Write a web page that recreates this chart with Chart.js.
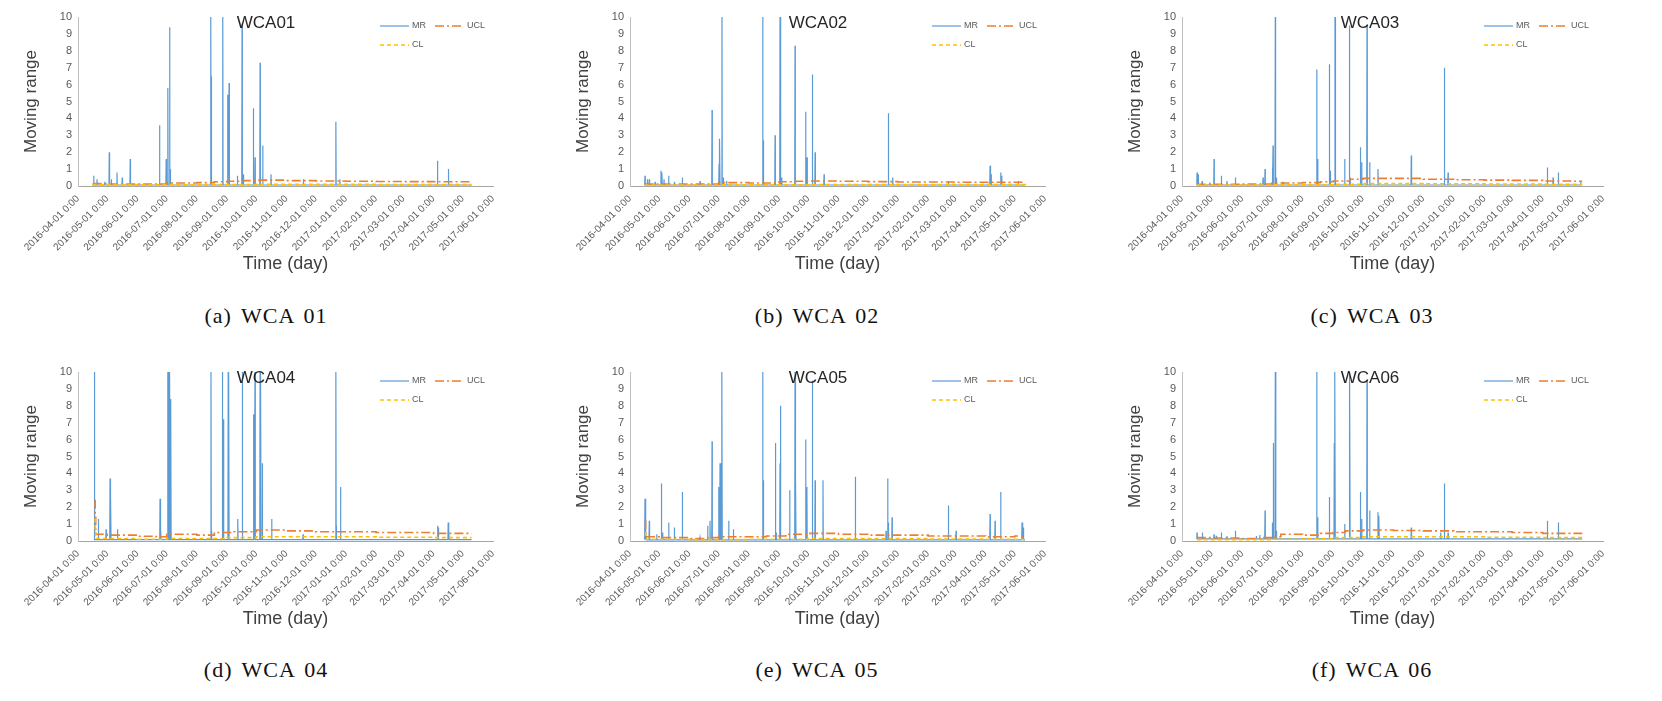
<!DOCTYPE html>
<html><head><meta charset="utf-8">
<script src="https://cdn.jsdelivr.net/npm/chart.js@4.4.1/dist/chart.umd.min.js"></script>
<style>
html,body{margin:0;padding:0;background:#fff;}
body{width:1662px;height:701px;position:relative;overflow:hidden;}
canvas{position:absolute;}
.cap{position:absolute;font-family:'Liberation Serif','DejaVu Serif',serif;font-size:22px;letter-spacing:1px;word-spacing:3px;color:#111;transform:translate(-50%,-50%);white-space:nowrap;}
</style></head><body>
<script>
// ---- axis ticks (days since 2016-04-01) ----
const tickDays = [0,30,61,91,122,153,183,214,244,275,306,334,365,395,426];
const tickLabels = ["2016-04-01 0:00","2016-05-01 0:00","2016-06-01 0:00","2016-07-01 0:00","2016-08-01 0:00","2016-09-01 0:00","2016-10-01 0:00","2016-11-01 0:00","2016-12-01 0:00","2017-01-01 0:00","2017-02-01 0:00","2017-03-01 0:00","2017-04-01 0:00","2017-05-01 0:00","2017-06-01 0:00"];
const stations = ["WCA01","WCA02","WCA03","WCA04","WCA05","WCA06"];
const captions = ["(a) WCA 01","(b) WCA 02","(c) WCA 03","(d) WCA 04","(e) WCA 05","(f) WCA 06"];

// ---- MR spikes [day, value], baseline level, data span ----
const mrWCA01 = [[16.1,0.6],[19.5,0.4],[27.3,0.25],[32.1,2.0],[34.2,0.4],[40,0.8],[45.4,0.5],[53.6,1.6],[83.7,3.6],[90.5,1.6],[92.2,5.8],[94,9.4],[94.6,1.0],[136.3,10],[137,6.5],[148.6,10],[153.7,5.4],[155.1,6.1],[163.6,0.6],[168.4,9.6],[169.8,0.7],[180,4.6],[181.7,1.7],[186.9,7.3],[189.6,2.4],[198.1,0.7],[231.3,0.4],[264.7,3.8],[268.8,0.4],[369,1.5],[380.2,1.0]];
const mrWCA02 = [[15.4,0.6],[17.8,0.4],[19.8,0.4],[25.7,0.25],[31.8,0.9],[32.8,0.8],[34.9,0.4],[39.7,0.6],[45.5,0.25],[53.7,0.5],[71.9,0.3],[84.2,4.5],[91.4,1.3],[92.1,2.8],[94.4,10],[95.8,0.5],[99.2,0.3],[136.2,10],[136.9,2.7],[148.9,3.0],[154,10],[154.7,6.5],[155.7,0.5],[169.4,8.3],[180.3,4.4],[181.7,1.7],[187.2,6.6],[190,2.0],[199.2,0.7],[265.2,4.3],[269.7,0.5],[326.8,0.3],[369.6,1.2],[370.6,0.7],[380.5,0.8],[381.5,0.6],[398.6,0.3]];
const mrWCA03 = [[15.2,0.8],[16.5,0.7],[20.3,0.3],[28.2,0.2],[32.4,1.6],[39.8,0.6],[45.5,0.3],[54,0.5],[82,0.5],[84,1.0],[91.4,1.1],[92.1,2.4],[94.4,10],[95.5,0.5],[102.2,0.25],[136.3,6.9],[137.3,1.6],[149.1,7.2],[150.1,0.9],[154.8,10],[155.3,10],[164.6,1.6],[169.3,9.5],[170,0.5],[180.5,2.3],[181.8,1.4],[187.2,9.5],[189.9,1.4],[198.3,1.0],[232,1.8],[265.5,7.0],[269.2,0.8],[369.7,1.1],[375.5,0.5],[380.8,0.8],[403.4,0.3]];
const mrWCA04 = [[17,10],[20.9,1.3],[28.8,0.7],[32.9,3.7],[33.6,2.8],[40.5,0.7],[84.2,2.5],[85,0.7],[92,10],[92.6,10],[93.2,10],[93.8,10],[94.4,10],[95.3,8.4],[136.5,10],[137.2,0.6],[148.2,10],[149.4,7.2],[154.2,10],[154.8,10],[164,1.3],[168.7,10],[180,7.5],[180.6,3.4],[181.7,10],[186.9,10],[187.6,10],[189.2,4.6],[198.8,1.3],[231,0.4],[264.7,10],[265.3,0.9],[269.5,3.2],[369,0.9],[369.8,0.8],[380,1.1],[380.8,0.6]];
const mrWCA05 = [[15.4,2.5],[16.4,0.6],[19.8,1.2],[27.4,0.4],[32.2,3.4],[33.5,0.5],[39.7,1.1],[45.5,0.8],[53.7,2.9],[71.9,0.2],[79.7,0.9],[82.1,1.2],[84.2,5.9],[91,3.2],[92.4,4.6],[93.4,0.8],[94.4,10],[101.3,1.2],[106.1,0.7],[136.2,10],[136.9,3.6],[149.2,5.8],[149.9,0.5],[154,4.6],[154.7,8.0],[163.9,3.0],[169.4,10],[170.1,3.8],[180.3,6.0],[181.6,3.2],[187.2,9.5],[190,3.6],[198.1,3.6],[231.3,3.8],[262.8,0.6],[264.5,3.7],[265.2,1.1],[269,1.4],[326.8,2.1],[334.7,0.6],[369.6,1.6],[374.7,1.2],[380.5,2.9],[402.4,1.1],[403.7,0.8]];
const mrWCA06 = [[15.2,0.5],[20.6,0.5],[32.4,0.4],[34.7,0.3],[39.8,0.5],[45.5,0.3],[54,0.6],[75.2,0.3],[78.6,0.35],[84,1.8],[91.4,1.1],[92.4,5.8],[94.4,10],[95.4,0.6],[136.3,10],[137.3,1.4],[149.1,2.6],[154.1,5.8],[154.8,10],[164.6,1.0],[169.3,10],[169.8,10],[180.5,2.9],[181.8,1.3],[187.2,9.5],[189.9,1.8],[198.3,1.7],[199.3,1.5],[232,0.8],[261.8,0.5],[265.5,3.4],[269.2,0.5],[369.7,1.2],[380.8,1.1]];
const mrFloor = [0.06,0.06,0.06,0.08,0.07,0.12];
const mrSpan = [[14.5,404],[15,405.5],[15,405],[17,404],[15,405.5],[15,405]];

// ---- UCL / CL step values [startDay, value] ----
const uclWCA01 = [[15,0.15],[30,0.12],[61,0.12],[91,0.18],[122,0.2],[140,0.25],[153,0.28],[170,0.32],[183,0.35],[214,0.32],[244,0.3],[275,0.28],[306,0.27],[334,0.26],[365,0.25],[404,0.25]];
const clWCA01  = [[15,0.08],[61,0.07],[122,0.08],[183,0.1],[244,0.1],[306,0.09],[365,0.08],[404,0.08]];
const uclWCA02 = [[15,0.12],[61,0.12],[91,0.2],[122,0.18],[153,0.25],[170,0.28],[183,0.3],[214,0.28],[244,0.26],[275,0.24],[334,0.22],[406,0.22]];
const clWCA02  = [[15,0.06],[91,0.07],[183,0.09],[275,0.08],[406,0.07]];
const uclWCA03 = [[15,0.1],[61,0.12],[91,0.18],[122,0.2],[140,0.25],[153,0.3],[170,0.4],[183,0.45],[214,0.45],[244,0.4],[275,0.37],[306,0.35],[334,0.33],[365,0.3],[395,0.28],[405,0.28]];
const clWCA03  = [[15,0.05],[91,0.07],[153,0.1],[183,0.14],[244,0.13],[306,0.12],[365,0.1],[405,0.1]];
const uclWCA04 = [[17,2.4],[17.6,1.4],[18.2,0.4],[30,0.35],[61,0.28],[80,0.25],[91,0.4],[122,0.35],[140,0.5],[160,0.55],[183,0.65],[214,0.6],[244,0.55],[275,0.55],[306,0.5],[334,0.5],[365,0.45],[404,0.45]];
const clWCA04  = [[17,1.3],[17.6,0.6],[18.2,0.15],[61,0.1],[91,0.15],[153,0.2],[183,0.25],[244,0.25],[306,0.22],[365,0.2],[404,0.2]];
const uclWCA05 = [[15.4,1.2],[16,0.25],[30,0.2],[61,0.15],[80,0.2],[91,0.25],[140,0.3],[160,0.4],[183,0.45],[214,0.4],[244,0.35],[306,0.3],[365,0.25],[395,0.3],[405,0.3]];
const clWCA05  = [[15.4,0.5],[16,0.1],[61,0.08],[122,0.1],[183,0.15],[244,0.14],[306,0.12],[365,0.1],[405,0.1]];
const uclWCA06 = [[15,0.2],[30,0.18],[61,0.15],[80,0.2],[91,0.25],[100,0.4],[122,0.35],[140,0.45],[153,0.5],[165,0.6],[183,0.65],[214,0.62],[244,0.6],[275,0.55],[334,0.5],[365,0.45],[405,0.45]];
const clWCA06  = [[15,0.08],[61,0.08],[91,0.1],[122,0.15],[153,0.2],[183,0.25],[244,0.25],[306,0.22],[365,0.2],[405,0.2]];

const mrAll = [mrWCA01,mrWCA02,mrWCA03,mrWCA04,mrWCA05,mrWCA06];
const uclAll = [uclWCA01,uclWCA02,uclWCA03,uclWCA04,uclWCA05,uclWCA06];
const clAll = [clWCA01,clWCA02,clWCA03,clWCA04,clWCA05,clWCA06];

// ---- layout ----
const FONT = "'Liberation Sans', Arial, sans-serif";
const panels = [
  {left:0,    top:0,   width:520, cx:266,  cy:316},
  {left:552,  top:0,   width:520, cx:817,  cy:316},
  {left:1104, top:0,   width:526, cx:1372, cy:316},
  {left:0,    top:355, width:520, cx:266,  cy:670},
  {left:552,  top:355, width:520, cx:817,  cy:670},
  {left:1104, top:355, width:526, cx:1372, cy:670}
];
const H = 281;

function buildMR(i){
  const fl = mrFloor[i];
  const pts = [{x:mrSpan[i][0], y:fl}];
  mrAll[i].slice().sort((a,b)=>a[0]-b[0]).forEach(([d,v])=>{
    pts.push({x:d-0.3,y:fl},{x:d,y:v},{x:d+0.3,y:fl});
  });
  pts.push({x:mrSpan[i][1], y:fl});
  return pts;
}
const toXY = arr => arr.map(([x,y])=>({x,y}));

const overlay = {
  id:'overlay',
  afterDatasetsDraw(chart, args, opts){
    const {ctx, chartArea:a} = chart;
    ctx.save();
    ctx.font = '17px ' + FONT;
    ctx.fillStyle = '#262626'; ctx.textAlign='center'; ctx.textBaseline='middle';
    ctx.fillText(opts.title, a.left+188, a.top+6);
    ctx.font = '9px ' + FONT; ctx.textAlign='left';
    [[0,302,9],[1,357,9],[2,302,28]].forEach(([k,dx,dy])=>{
      const ds = chart.data.datasets[k];
      ctx.strokeStyle = ds.borderColor; ctx.lineWidth = ds.borderWidth;
      ctx.setLineDash(ds.borderDash||[]);
      ctx.beginPath(); ctx.moveTo(a.left+dx, a.top+dy); ctx.lineTo(a.left+dx+29, a.top+dy); ctx.stroke();
      ctx.setLineDash([]);
      ctx.fillStyle = '#595959'; ctx.fillText(ds.label, a.left+dx+32, a.top+dy);
    });
    ctx.restore();
  }
};

panels.forEach((p,i)=>{
  const cv = document.createElement('canvas');
  cv.width = p.width; cv.height = H;
  cv.style.left = p.left+'px'; cv.style.top = p.top+'px';
  cv.style.width = p.width+'px'; cv.style.height = H+'px';
  document.body.appendChild(cv);
  const cap = document.createElement('div');
  cap.className='cap'; cap.textContent = captions[i];
  cap.style.left = p.cx+'px'; cap.style.top = p.cy+'px';
  document.body.appendChild(cap);

  new Chart(cv, {
    type:'line',
    data:{datasets:[
      {label:'MR', data:buildMR(i), borderColor:'#5B9BD5', borderWidth:1.2, pointRadius:0, tension:0, order:2},
      {label:'UCL', data:toXY(uclAll[i]), borderColor:'#ED7D31', borderWidth:1.6, borderDash:[9,3,2,3], stepped:true, pointRadius:0, order:1},
      {label:'CL', data:toXY(clAll[i]), borderColor:'#FFC000', borderWidth:1.6, borderDash:[4,3], stepped:true, pointRadius:0, order:0}
    ]},
    options:{
      responsive:false, animation:false, devicePixelRatio:1,
      layout:{padding:{top:17, right:27, left:0, bottom:0}},
      plugins:{legend:{display:false}, tooltip:{enabled:false}, overlay:{title:stations[i]}},
      scales:{
        x:{type:'linear', min:0, max:426,
          grid:{display:false, drawTicks:false},
          border:{color:'#a6a6a6'},
          afterBuildTicks(s){ s.ticks = tickDays.map(v=>({value:v})); },
          ticks:{autoSkip:false, minRotation:45, maxRotation:45, padding:7, color:'#595959',
            font:{size:10, family:FONT}, callback:(v,idx)=>tickLabels[idx]},
          title:{display:true, text:'Time (day)', color:'#404040', font:{size:18, family:FONT}, padding:{top:0,bottom:6}},
          afterFit(s){ s.height = H-186; }
        },
        y:{min:0, max:10,
          grid:{display:false, drawTicks:false},
          border:{color:'#bfbfbf'},
          ticks:{stepSize:1, color:'#595959', font:{size:11, family:FONT}, padding:6},
          title:{display:true, text:'Moving range', color:'#404040', font:{size:17, family:FONT}, padding:{top:21,bottom:0}},
          afterFit(s){ s.width = 78; }
        }
      }
    },
    plugins:[overlay]
  });
});
</script>
</body></html>
